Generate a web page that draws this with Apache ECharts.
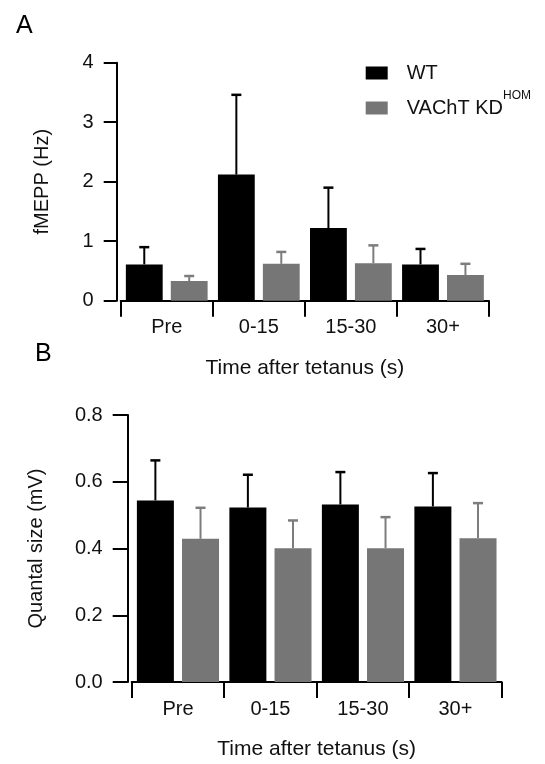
<!DOCTYPE html>
<html>
<head>
<meta charset="utf-8">
<style>
  html, body { margin: 0; padding: 0; background: #fff; }
  #chart { width: 545px; height: 764px; }
</style>
<script src="https://cdn.jsdelivr.net/npm/echarts@6/dist/echarts.min.js"></script>
</head>
<body>
<div id="chart"></div>
<script>
// ---- data ----
const categories = ['Pre', '0-15', '15-30', '30+'];
const seriesNames = ['WT', 'VAChT KD'];
// Panel A: fMEPP (Hz)
const fmeppWT = [0.61, 2.12, 1.22, 0.61];
const fmeppWTErr = [0.29, 1.34, 0.68, 0.26];
const fmeppKD = [0.33, 0.62, 0.63, 0.43];
const fmeppKDErr = [0.085, 0.20, 0.30, 0.19];
// Panel B: Quantal size (mV)
const quantalWT = [0.544, 0.523, 0.532, 0.526];
const quantalWTErr = [0.120, 0.098, 0.097, 0.100];
const quantalKD = [0.429, 0.401, 0.401, 0.431];
const quantalKDErr = [0.093, 0.083, 0.093, 0.105];
const yTicksA = [0, 1, 2, 3, 4];
const yTicksB = [0.0, 0.2, 0.4, 0.6, 0.8];

// ---- style ----
const FONT = 'Liberation Sans';
const BLACK = '#000000';
const GREY = '#767676';
const GREY_ERR = '#7d7d7d';
const BAR_FRAC = 0.40;
const GAP_FRAC = 0.22;

const chart = echarts.init(document.getElementById('chart'), null, { renderer: 'canvas' });

function errSeries(name, values, errs, xi, side, color) {
  return {
    type: 'custom',
    name: name,
    xAxisIndex: xi, yAxisIndex: xi,
    z: 5,
    silent: true,
    data: values.map((v, i) => [i, v, v + errs[i]]),
    renderItem: function (params, api) {
      const base = api.coord([api.value(0), api.value(1)]);
      const top = api.coord([api.value(0), api.value(2)]);
      const band = api.size([1, 0])[0];
      const x = base[0] + side * band * BAR_FRAC * (1 + GAP_FRAC) / 2;
      const cap = 5;
      return {
        type: 'group',
        children: [
          { type: 'line', shape: { x1: x, y1: base[1], x2: x, y2: top[1] }, style: { stroke: color, lineWidth: 2 } },
          { type: 'line', shape: { x1: x - cap, y1: top[1], x2: x + cap, y2: top[1] }, style: { stroke: color, lineWidth: 2.5 } }
        ]
      };
    }
  };
}

function barSeries(name, values, xi, color) {
  return {
    type: 'bar', name: name, xAxisIndex: xi, yAxisIndex: xi,
    data: values, barWidth: (BAR_FRAC * 100) + '%', barGap: (GAP_FRAC * 100) + '%',
    itemStyle: { color: color }, silent: true
  };
}

function xAxisCfg(gi, nameGap) {
  return {
    type: 'category', gridIndex: gi, data: categories, offset: 3,
    name: 'Time after tetanus (s)', nameLocation: 'middle', nameGap: nameGap,
    nameTextStyle: { fontFamily: FONT, fontSize: 21, color: '#111' },
    axisLine: { lineStyle: { color: BLACK, width: 2 } },
    axisTick: { show: true, length: 16, lineStyle: { color: BLACK, width: 2 } },
    axisLabel: { fontFamily: FONT, fontSize: 20, color: '#111', margin: 14 },
    splitLine: { show: false }
  };
}

function yAxisCfg(gi, max, interval, ticks, name, nameGap, tickLen, margin, dec) {
  return {
    type: 'value', gridIndex: gi, min: 0, max: max, interval: interval, offset: 4,
    name: name, nameLocation: 'middle', nameGap: nameGap,
    nameTextStyle: { fontFamily: FONT, fontSize: 20, color: '#111' },
    axisLine: { show: true, lineStyle: { color: BLACK, width: 2 } },
    axisTick: { show: true, length: tickLen, lineStyle: { color: BLACK, width: 2 } },
    axisLabel: {
      fontFamily: FONT, fontSize: 20, color: '#111', margin: margin,
      formatter: function (v) {
        const t = ticks.find(k => Math.abs(k - v) < 1e-9);
        return t === undefined ? '' : t.toFixed(dec);
      }
    },
    splitLine: { show: false }
  };
}

const option = {
  animation: false,
  backgroundColor: '#fff',
  title: [
    { text: 'A', left: 11, top: 9, textStyle: { fontFamily: FONT, fontSize: 25, fontWeight: 'normal', color: '#000' } },
    { text: 'B', left: 30, top: 337, textStyle: { fontFamily: FONT, fontSize: 25, fontWeight: 'normal', color: '#000' } }
  ],
  legend: {
    data: seriesNames,
    orient: 'vertical',
    left: 360.7, top: 58,
    itemWidth: 22, itemHeight: 13, itemGap: 7,
    icon: 'rect',
    selectedMode: false,
    formatter: function (name) {
      return name === 'WT' ? '{b|WT}' : '{b|VAChT KD}{s|HOM}';
    },
    textStyle: {
      fontFamily: FONT, fontSize: 20, color: '#111', padding: [0, 0, 0, 14],
      rich: {
        b: { fontFamily: FONT, fontSize: 20, lineHeight: 20, color: '#111', verticalAlign: 'middle' },
        s: { fontFamily: FONT, fontSize: 12, lineHeight: 12, color: '#111', verticalAlign: 'middle', padding: [0, 0, 24, 0] }
      }
    }
  },
  grid: [
    { left: 120.7, right: 56, top: 62.7, height: 238 },
    { left: 131.7, right: 43.3, top: 415, height: 267 }
  ],
  xAxis: [xAxisCfg(0, 54), xAxisCfg(1, 54)],
  yAxis: [
    yAxisCfg(0, 4, 1, yTicksA, 'fMEPP (Hz)', 64, 13, 23, 0),
    yAxisCfg(1, 0.8, 0.2, yTicksB, 'Quantal size (mV)', 81, 15, 25, 1)
  ],
  series: [
    barSeries('WT', fmeppWT, 0, BLACK),
    barSeries('VAChT KD', fmeppKD, 0, GREY),
    errSeries('WT', fmeppWT, fmeppWTErr, 0, -1, BLACK),
    errSeries('VAChT KD', fmeppKD, fmeppKDErr, 0, 1, GREY_ERR),
    barSeries('WT', quantalWT, 1, BLACK),
    barSeries('VAChT KD', quantalKD, 1, GREY),
    errSeries('WT', quantalWT, quantalWTErr, 1, -1, BLACK),
    errSeries('VAChT KD', quantalKD, quantalKDErr, 1, 1, GREY_ERR)
  ]
};
chart.setOption(option);
</script>
</body>
</html>
